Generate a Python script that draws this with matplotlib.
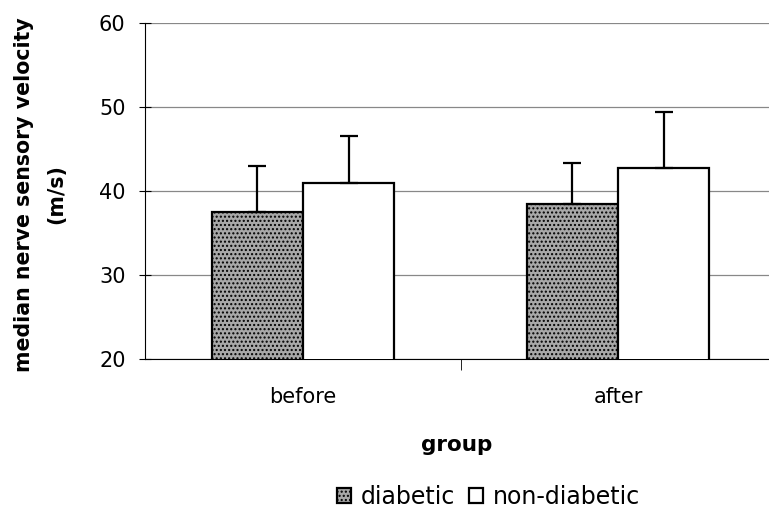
import matplotlib.pyplot as plt
import numpy as np

# data
groups = ['before', 'after']
diabetic = [37.5, 38.5]
diabetic_err = [5.5, 4.8]
non_diabetic = [41.0, 42.7]
non_diabetic_err = [5.5, 6.7]

plt.rcParams['font.family'] = ['DejaVu Sans']

fig = plt.figure(figsize=(7.69, 5.22), dpi=100)
ax = fig.add_axes([0.1886, 0.3123, 0.8114, 0.6437])

x = np.arange(len(groups))
w = 0.29

ax.bar(x - w / 2, diabetic, w, color='#a8a8a8', edgecolor='black',
       linewidth=1.6, hatch='....', zorder=3, label='diabetic')
ax.bar(x + w / 2, non_diabetic, w, color='white', edgecolor='black',
       linewidth=1.6, zorder=3, label='non-diabetic')

# only the upper half of the error bars is drawn
ax.errorbar(x - w / 2, diabetic, yerr=[np.zeros(2), diabetic_err], fmt='none',
            ecolor='black', elinewidth=1.6, capsize=6.5, capthick=1.6, zorder=4)
ax.errorbar(x + w / 2, non_diabetic, yerr=[np.zeros(2), non_diabetic_err], fmt='none',
            ecolor='black', elinewidth=1.6, capsize=6.5, capthick=1.6, zorder=4)

ax.set_ylim(20, 60)
ax.set_xlim(-0.502, 1.479)
ax.set_yticks([20, 30, 40, 50, 60])
ax.yaxis.grid(True, color='#888888', linewidth=0.9)
ax.set_axisbelow(True)

for s in ['top', 'right']:
    ax.spines[s].set_visible(False)

ax.tick_params(axis='y', direction='inout', length=8, labelsize=15, pad=10)
ax.set_xticks(x)
ax.set_xticklabels(groups)
ax.set_xticks([0.5], minor=True)
ax.tick_params(axis='x', which='major', length=0, labelsize=15, pad=20)
ax.tick_params(axis='x', which='minor', direction='out', length=8)

ax.set_xlabel('group', fontsize=15.5, fontweight='bold', labelpad=20)
fig.text(0.052, 0.628, 'median nerve sensory velocity\n(m/s)', rotation=90,
         ha='center', va='center', fontsize=14.8, fontweight='bold', linespacing=1.75)

fig.legend(loc='center', bbox_to_anchor=(0.635, 0.048), ncol=2, frameon=False,
           fontsize=17, handlelength=0.6, handleheight=0.6, handletextpad=0.4,
           columnspacing=0.6)

plt.savefig('out.png')
